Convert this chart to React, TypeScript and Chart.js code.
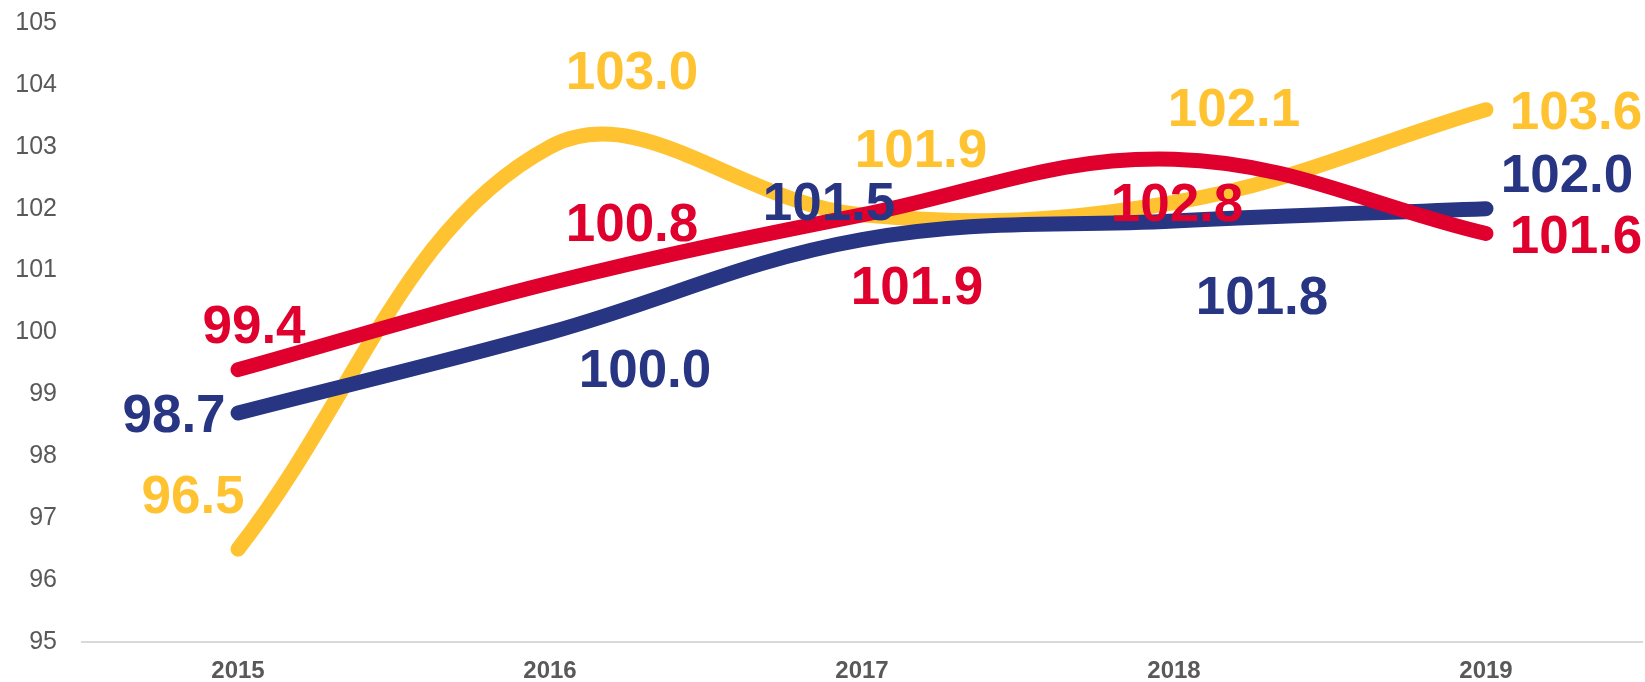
import React, { useEffect, useRef } from "react";
import { Chart, registerables } from "chart.js";

Chart.register(...registerables);

// ---- data ----
const years = ["2015", "2016", "2017", "2018", "2019"];
const yellowValues = [96.5, 103.0, 101.9, 102.1, 103.6];
const redValues = [99.4, 100.8, 101.9, 102.8, 101.6];
const navyValues = [98.7, 100.0, 101.5, 101.8, 102.0];
const yMin = 95;
const yMax = 105;

// ---- label placement (pixel offsets from each point) ----
const yellowLabelOffsets = [[-45, -55], [82, -77], [59, -67], [60, -95], [90, 0]];
const redLabelOffsets = [[16, -46], [82, -61], [55, 70], [3, 43], [90, 1]];
const navyLabelOffsets = [[-64, 0], [95, 36], [-33, -39], [88, 74], [81, -36]];

const YELLOW = "#FFC332";
const RED = "#E0002E";
const NAVY = "#283582";
const FONT = '"Liberation Sans", Arial, Helvetica, sans-serif';
const LABEL_SIZE = 53;

const labelPlugin = {
  id: "valueLabels",
  afterDatasetsDraw(chart: any) {
    const ctx = chart.ctx;
    ctx.save();
    ctx.font = `bold ${LABEL_SIZE}px ${FONT}`;
    ctx.textAlign = "center";
    ctx.textBaseline = "alphabetic";
    chart.data.datasets.forEach((ds: any, i: number) => {
      const meta = chart.getDatasetMeta(i);
      meta.data.forEach((pt: any, j: number) => {
        const off = ds.labelOffsets[j];
        const v = ds.data[j];
        ctx.fillStyle = ds.borderColor;
        ctx.fillText(v.toFixed(1), pt.x + off[0], pt.y + off[1] + LABEL_SIZE * 0.358);
      });
    });
    ctx.restore();
  },
};

export default function App() {
  const ref = useRef<HTMLCanvasElement | null>(null);

  useEffect(() => {
    if (!ref.current) return;
    const chart = new Chart(ref.current, {
      type: "line",
      data: {
        labels: years,
        datasets: [
          {
            data: redValues,
            borderColor: RED,
            backgroundColor: RED,
            labelOffsets: redLabelOffsets,
          } as any,
          {
            data: navyValues,
            borderColor: NAVY,
            backgroundColor: NAVY,
            labelOffsets: navyLabelOffsets,
          } as any,
          {
            data: yellowValues,
            borderColor: YELLOW,
            backgroundColor: YELLOW,
            labelOffsets: yellowLabelOffsets,
          } as any,
        ].map((d) => ({
          ...d,
          borderWidth: 15,
          borderCapStyle: "round",
          borderJoinStyle: "round",
          tension: 0.38,
          pointRadius: 0,
          pointHoverRadius: 0,
          fill: false,
        })),
      },
      options: {
        animation: false,
        responsive: true,
        maintainAspectRatio: false,
        events: [],
        layout: { padding: { top: 23, right: 3, bottom: 0, left: 0 } },
        plugins: {
          legend: { display: false },
          tooltip: { enabled: false },
        },
        scales: {
          x: {
            offset: true,
            grid: { display: false, drawTicks: false },
            border: { display: true, color: "#D9D9D9", width: 2 },
            ticks: {
              color: "#595959",
              font: { family: FONT, size: 24, weight: "bold" },
              padding: 15,
              maxRotation: 0,
            },
            afterFit(scale: any) {
              scale.height = 40;
            },
          },
          y: {
            min: yMin,
            max: yMax,
            grid: { display: false, drawTicks: false },
            border: { display: false },
            ticks: {
              stepSize: 1,
              color: "#595959",
              font: { family: FONT, size: 25 },
              padding: 25,
            },
            afterFit(scale: any) {
              scale.width = 82;
              scale.paddingTop = 12;
              scale.paddingBottom = 12;
            },
          },
        },
      },
      plugins: [labelPlugin],
    } as any);
    return () => chart.destroy();
  }, []);

  return (
    <div style={{ position: "fixed", left: 0, top: 0, width: 1645, height: 682, background: "#fff" }}>
      <canvas ref={ref} />
    </div>
  );
}
